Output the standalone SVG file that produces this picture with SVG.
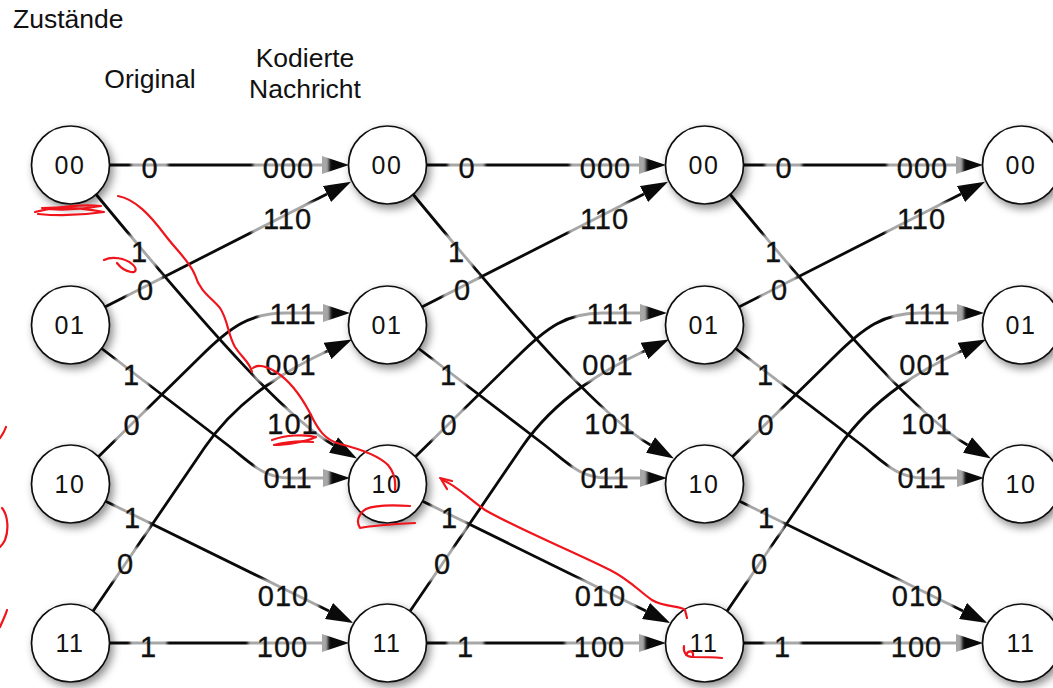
<svg xmlns="http://www.w3.org/2000/svg" width="1053" height="688" viewBox="0 0 1053 688">
  <style>
    text { font-family: "Liberation Sans", Arial, Helvetica, sans-serif; fill: #111; }
    .hdr { font-size: 26.5px; }
    .edge { fill: none; stroke: #0a0a0a; stroke-width: 2.8; marker-end: url(#arr); }
    .halo { fill: #fff; fill-opacity: 0.64; filter: url(#soft); }
    .lbl { font-size: 29px; letter-spacing: 1px; text-anchor: middle; stroke: #111; stroke-width: 0.35; }
    .node circle { fill: #fff; stroke: #111; stroke-width: 1.7; filter: url(#shadow); }
    .node text { font-size: 25px; letter-spacing: 1.5px; text-anchor: middle; }
    .ink { fill: none; stroke: #f0141c; stroke-width: 2.2; stroke-linecap: round; stroke-linejoin: round; }
  </style>
  <defs>
    <marker id="arr" markerUnits="userSpaceOnUse" viewBox="0 0 27 18" markerWidth="27" markerHeight="18" refX="0" refY="9" orient="auto">
      <path d="M0,0 L27,9 L0,18 z" fill="#0a0a0a"/>
    </marker>
    <filter id="shadow" x="-30%" y="-30%" width="170%" height="170%">
      <feDropShadow dx="3" dy="4" stdDeviation="4" flood-color="#000" flood-opacity="0.45"/>
    </filter>
    <filter id="soft" x="-20%" y="-30%" width="140%" height="160%">
      <feGaussianBlur stdDeviation="1.5"/>
    </filter>
  </defs>

  <!-- column headings -->
  <text class="hdr" x="13" y="28">Zustände</text>
  <text class="hdr" x="150" y="88" text-anchor="middle">Original</text>
  <text class="hdr" x="305" y="67" text-anchor="middle">Kodierte</text>
  <text class="hdr" x="305" y="98" text-anchor="middle">Nachricht</text>

  <!-- trellis transitions, one block per time step -->
  <g id="connectors">
    <g id="step-1">
      <path class="edge" d="M90,165 H322"/>
      <path class="edge" d="M90,643 H322"/>
      <path class="edge" d="M97,311 L327,194"/>
      <path class="edge" d="M97,497 L329,611"/>
      <path class="edge" d="M90,187 C220,345 290,420 333.5,445"/>
      <path class="edge" d="M87,620 L205,447 C240,396 291,368 327.5,351"/>
      <path class="edge" d="M92,463 L200,357 C230,327 250,313 285,313 H323"/>
      <path class="edge" d="M94.5,343 L225,443 C250,462 262,478 290,478 H323"/>
      <rect class="halo" x="131" y="151" width="37" height="34" rx="6"/>
      <rect class="halo" x="253" y="151" width="76" height="34" rx="6"/>
      <rect class="halo" x="130" y="630" width="37" height="34" rx="6"/>
      <rect class="halo" x="248" y="630" width="80" height="34" rx="6"/>
      <rect class="halo" x="126" y="273" width="37" height="34" rx="6"/>
      <rect class="halo" x="251" y="202" width="72" height="34" rx="6"/>
      <rect class="halo" x="120" y="235" width="37" height="34" rx="6"/>
      <rect class="halo" x="256" y="407" width="72" height="34" rx="6"/>
      <rect class="halo" x="112" y="358" width="37" height="34" rx="6"/>
      <rect class="halo" x="254" y="461" width="76" height="34" rx="6"/>
      <rect class="halo" x="113" y="408" width="37" height="34" rx="6"/>
      <rect class="halo" x="258" y="297" width="72" height="34" rx="6"/>
      <rect class="halo" x="113" y="501" width="37" height="34" rx="6"/>
      <rect class="halo" x="247" y="579" width="72" height="34" rx="6"/>
      <rect class="halo" x="106" y="547" width="37" height="34" rx="6"/>
      <rect class="halo" x="254" y="348" width="72" height="34" rx="6"/>
      <text class="lbl" x="150" y="178">0</text>
      <text class="lbl" x="288.5" y="178">000</text>
      <text class="lbl" x="148.5" y="657">1</text>
      <text class="lbl" x="282.5" y="657">100</text>
      <text class="lbl" x="145.5" y="300">0</text>
      <text class="lbl" x="287.5" y="229">110</text>
      <text class="lbl" x="139.5" y="262">1</text>
      <text class="lbl" x="293" y="434">101</text>
      <text class="lbl" x="131.5" y="385">1</text>
      <text class="lbl" x="288" y="487.5">011</text>
      <text class="lbl" x="132" y="435">0</text>
      <text class="lbl" x="293" y="324">111</text>
      <text class="lbl" x="132.5" y="528">1</text>
      <text class="lbl" x="283.5" y="606">010</text>
      <text class="lbl" x="125.5" y="574">0</text>
      <text class="lbl" x="291" y="375">001</text>
    </g>
    <g id="step-2" transform="translate(317,0)">
      <path class="edge" d="M90,165 H322"/>
      <path class="edge" d="M90,643 H322"/>
      <path class="edge" d="M97,311 L327,194"/>
      <path class="edge" d="M97,497 L329,611"/>
      <path class="edge" d="M90,187 C220,345 290,420 333.5,445"/>
      <path class="edge" d="M87,620 L205,447 C240,396 291,368 327.5,351"/>
      <path class="edge" d="M92,463 L200,357 C230,327 250,313 285,313 H323"/>
      <path class="edge" d="M94.5,343 L225,443 C250,462 262,478 290,478 H323"/>
      <rect class="halo" x="131" y="151" width="37" height="34" rx="6"/>
      <rect class="halo" x="253" y="151" width="76" height="34" rx="6"/>
      <rect class="halo" x="130" y="630" width="37" height="34" rx="6"/>
      <rect class="halo" x="248" y="630" width="80" height="34" rx="6"/>
      <rect class="halo" x="126" y="273" width="37" height="34" rx="6"/>
      <rect class="halo" x="251" y="202" width="72" height="34" rx="6"/>
      <rect class="halo" x="120" y="235" width="37" height="34" rx="6"/>
      <rect class="halo" x="256" y="407" width="72" height="34" rx="6"/>
      <rect class="halo" x="112" y="358" width="37" height="34" rx="6"/>
      <rect class="halo" x="254" y="461" width="76" height="34" rx="6"/>
      <rect class="halo" x="113" y="408" width="37" height="34" rx="6"/>
      <rect class="halo" x="258" y="297" width="72" height="34" rx="6"/>
      <rect class="halo" x="113" y="501" width="37" height="34" rx="6"/>
      <rect class="halo" x="247" y="579" width="72" height="34" rx="6"/>
      <rect class="halo" x="106" y="547" width="37" height="34" rx="6"/>
      <rect class="halo" x="254" y="348" width="72" height="34" rx="6"/>
      <text class="lbl" x="150" y="178">0</text>
      <text class="lbl" x="288.5" y="178">000</text>
      <text class="lbl" x="148.5" y="657">1</text>
      <text class="lbl" x="282.5" y="657">100</text>
      <text class="lbl" x="145.5" y="300">0</text>
      <text class="lbl" x="287.5" y="229">110</text>
      <text class="lbl" x="139.5" y="262">1</text>
      <text class="lbl" x="293" y="434">101</text>
      <text class="lbl" x="131.5" y="385">1</text>
      <text class="lbl" x="288" y="487.5">011</text>
      <text class="lbl" x="132" y="435">0</text>
      <text class="lbl" x="293" y="324">111</text>
      <text class="lbl" x="132.5" y="528">1</text>
      <text class="lbl" x="283.5" y="606">010</text>
      <text class="lbl" x="125.5" y="574">0</text>
      <text class="lbl" x="291" y="375">001</text>
    </g>
    <g id="step-3" transform="translate(634,0)">
      <path class="edge" d="M90,165 H322"/>
      <path class="edge" d="M90,643 H322"/>
      <path class="edge" d="M97,311 L327,194"/>
      <path class="edge" d="M97,497 L329,611"/>
      <path class="edge" d="M90,187 C220,345 290,420 333.5,445"/>
      <path class="edge" d="M87,620 L205,447 C240,396 291,368 327.5,351"/>
      <path class="edge" d="M92,463 L200,357 C230,327 250,313 285,313 H323"/>
      <path class="edge" d="M94.5,343 L225,443 C250,462 262,478 290,478 H323"/>
      <rect class="halo" x="131" y="151" width="37" height="34" rx="6"/>
      <rect class="halo" x="253" y="151" width="76" height="34" rx="6"/>
      <rect class="halo" x="130" y="630" width="37" height="34" rx="6"/>
      <rect class="halo" x="248" y="630" width="80" height="34" rx="6"/>
      <rect class="halo" x="126" y="273" width="37" height="34" rx="6"/>
      <rect class="halo" x="251" y="202" width="72" height="34" rx="6"/>
      <rect class="halo" x="120" y="235" width="37" height="34" rx="6"/>
      <rect class="halo" x="256" y="407" width="72" height="34" rx="6"/>
      <rect class="halo" x="112" y="358" width="37" height="34" rx="6"/>
      <rect class="halo" x="254" y="461" width="76" height="34" rx="6"/>
      <rect class="halo" x="113" y="408" width="37" height="34" rx="6"/>
      <rect class="halo" x="258" y="297" width="72" height="34" rx="6"/>
      <rect class="halo" x="113" y="501" width="37" height="34" rx="6"/>
      <rect class="halo" x="247" y="579" width="72" height="34" rx="6"/>
      <rect class="halo" x="106" y="547" width="37" height="34" rx="6"/>
      <rect class="halo" x="254" y="348" width="72" height="34" rx="6"/>
      <text class="lbl" x="150" y="178">0</text>
      <text class="lbl" x="288.5" y="178">000</text>
      <text class="lbl" x="148.5" y="657">1</text>
      <text class="lbl" x="282.5" y="657">100</text>
      <text class="lbl" x="145.5" y="300">0</text>
      <text class="lbl" x="287.5" y="229">110</text>
      <text class="lbl" x="139.5" y="262">1</text>
      <text class="lbl" x="293" y="434">101</text>
      <text class="lbl" x="131.5" y="385">1</text>
      <text class="lbl" x="288" y="487.5">011</text>
      <text class="lbl" x="132" y="435">0</text>
      <text class="lbl" x="293" y="324">111</text>
      <text class="lbl" x="132.5" y="528">1</text>
      <text class="lbl" x="283.5" y="606">010</text>
      <text class="lbl" x="125.5" y="574">0</text>
      <text class="lbl" x="291" y="375">001</text>
    </g>
  </g>

  <!-- state nodes: four columns, states 00 / 01 / 10 / 11 -->
  <g id="n-t0-00" class="node"><circle cx="70.5" cy="165" r="39"/><text x="70" y="174">00</text></g>
  <g id="n-t0-01" class="node"><circle cx="70.5" cy="325" r="39"/><text x="70" y="334">01</text></g>
  <g id="n-t0-10" class="node"><circle cx="70.5" cy="484" r="39"/><text x="70" y="493">10</text></g>
  <g id="n-t0-11" class="node"><circle cx="70.5" cy="643" r="39"/><text x="70" y="652">11</text></g>

  <g id="n-t1-00" class="node"><circle cx="387.5" cy="165" r="39"/><text x="387" y="174">00</text></g>
  <g id="n-t1-01" class="node"><circle cx="387.5" cy="325" r="39"/><text x="387" y="334">01</text></g>
  <g id="n-t1-10" class="node"><circle cx="387.5" cy="484" r="39"/><text x="387" y="493">10</text></g>
  <g id="n-t1-11" class="node"><circle cx="387.5" cy="643" r="39"/><text x="387" y="652">11</text></g>

  <g id="n-t2-00" class="node"><circle cx="704.5" cy="165" r="39"/><text x="704" y="174">00</text></g>
  <g id="n-t2-01" class="node"><circle cx="704.5" cy="325" r="39"/><text x="704" y="334">01</text></g>
  <g id="n-t2-10" class="node"><circle cx="704.5" cy="484" r="39"/><text x="704" y="493">10</text></g>
  <g id="n-t2-11" class="node"><circle cx="704.5" cy="643" r="39"/><text x="704" y="652">11</text></g>

  <g id="n-t3-00" class="node"><circle cx="1021.5" cy="165" r="39"/><text x="1021" y="174">00</text></g>
  <g id="n-t3-01" class="node"><circle cx="1021.5" cy="325" r="39"/><text x="1021" y="334">01</text></g>
  <g id="n-t3-10" class="node"><circle cx="1021.5" cy="484" r="39"/><text x="1021" y="493">10</text></g>
  <g id="n-t3-11" class="node"><circle cx="1021.5" cy="643" r="39"/><text x="1021" y="652">11</text></g>

  <!-- handwritten red path trace -->
  <g id="pen">
    <path class="ink" d="M35,212 C55,207 82,204 101,206 C82,209 58,211 42,208 C62,207 88,209 104,212 C84,215 58,216 38,214"/>
    <path class="ink" d="M104,260 C112,256 125,258 132,264 C137,268 137,273 131,272 C125,271 120,267 117,263"/>
    <path class="ink" d="M118,196 C135,199 150,215 165,235 C178,252 190,262 195,275 C200,292 212,298 220,308 C228,320 228,335 235,347 C242,358 250,362 252,372 M253,368 C258,364 266,366 276,372 C292,382 302,398 310,413 C318,430 325,440 340,444 C360,449 378,455 388,465 C394,472 396,480 395,490"/>
    <path class="ink" d="M272,440 C285,435 305,434 316,437 C305,442 285,445 274,445 C290,441 305,441 313,442"/>
    <path class="ink" d="M410,506 C395,505 375,505 366,509 C358,514 356,522 360,528 C370,526 395,524 415,523"/>
    <path class="ink" d="M440,478 L452,481 M441,479 L447,489"/>
    <path class="ink" d="M442,480 C455,484 470,500 485,510 C520,530 570,550 610,570 C630,580 640,592 652,600 C665,608 680,605 685,610 L687,618"/>
    <path class="ink" d="M684,646 C683,652 686,657 692,657 C702,657 712,657 722,658 M686,655 C688,650 694,650 693,656"/>
    <path class="ink" d="M0,438 C3,434 5,430 6,427"/>
    <path class="ink" d="M2,508 C8,515 9,530 5,540 C3,544 1,546 0,547"/>
    <path class="ink" d="M0,627 C3,620 6,614 7,610"/>
  </g>
</svg>
